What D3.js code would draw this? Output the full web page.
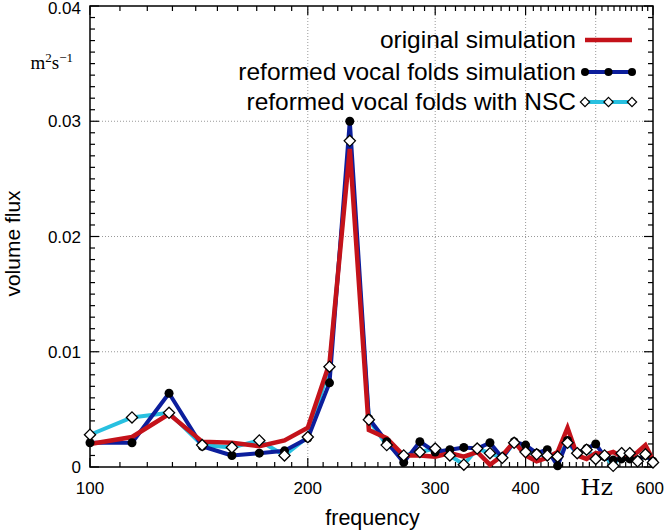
<!DOCTYPE html>
<html><head><meta charset="utf-8">
<script src="https://cdn.jsdelivr.net/npm/d3@7"></script>
<style>body{margin:0;background:#fff}svg{display:block}</style>
</head><body>
<svg id="c" width="665" height="530"></svg>
<script>
const freqs = [100,114.3,128.6,142.9,157.1,171.4,185.7,200,214.3,228.6,242.9,257.1,271.4,285.7,300,314.3,328.6,342.9,357.1,371.4,385.7,400,414.3,428.6,442.9,457.1,471.4,485.7,500,514.3,528.6,542.9,557.1,571.4,585.7,600];
const original = [0.0020,0.0026,0.0046,0.0022,0.0021,0.0018,0.0023,0.0034,0.0090,0.0276,0.0032,0.0025,0.0010,0.0010,0.0009,0.0012,0.0009,0.0013,0.0002,0.0010,0.0022,0.0010,0.0005,0.0008,0.0013,0.0034,0.0010,0.0007,0.0012,0.0011,0.0013,0.0009,0.0008,0.0013,0.0019,0.0006];
const reformed = [0.0021,0.0021,0.0064,0.0018,0.0010,0.0012,0.0014,0.0025,0.0073,0.0300,0.0042,0.0022,0.0004,0.0022,0.0013,0.0015,0.0017,0.0016,0.0021,0.0008,0.0022,0.0019,0.0012,0.0015,0.0001,0.0023,0.0012,0.0016,0.0020,0.0009,0.0006,0.0007,0.0007,0.0006,0.0010,0.0005];
const nsc = [0.0028,0.0043,0.0047,0.0019,0.0017,0.0023,0.0010,0.0026,0.0087,0.0283,0.0041,0.0019,0.0010,0.0013,0.0016,0.0010,0.0002,0.0016,0.0012,0.0008,0.0021,0.0013,0.0011,0.0010,0.0009,0.0021,0.0012,0.0015,0.0007,0.0010,0.0001,0.0012,0.0012,0.0005,0.0011,0.0004];
const xMajor = [100,200,300,400,500,600];
const xLabels = ["100","200","300","400","","600"];
const yMajor = [0,0.01,0.02,0.03,0.04];
const yLabels = ["0","0.01","0.02","0.03","0.04"];
const legendNames = ["original simulation","reformed vocal folds simulation","reformed vocal folds with NSC"];

const L=90,R=653,T=6,B=467;
const svg=d3.select("#c");
const x=d3.scaleLog().domain([100,600]).range([L,R]);
const y=d3.scaleLinear().domain([0,0.04]).range([B,T]);

// grid
const gridX=[200,300,400,500];
const gridY=[0.01,0.02,0.03];
svg.append("g").selectAll("line").data(gridX).join("line")
  .attr("x1",d=>x(d)).attr("x2",d=>x(d)).attr("y1",T).attr("y2",B)
  .attr("stroke","#999").attr("stroke-width",1).attr("stroke-dasharray","1,2");
svg.append("g").selectAll("line").data(gridY).join("line")
  .attr("y1",d=>y(d)).attr("y2",d=>y(d)).attr("x1",L).attr("x2",R)
  .attr("stroke","#999").attr("stroke-width",1).attr("stroke-dasharray","1,2");

// minor ticks
const xMin2=[];
[100,200,300,400,500].forEach(s=>{for(let k=1;k<10;k++) xMin2.push(s+k*10);});
const yMinor=[];
for(let i=1;i<40;i++){ if(i%10!==0) yMinor.push(i/1000); }

const tk=svg.append("g").attr("stroke","#000").attr("stroke-width",1.2);
xMin2.forEach(v=>{
  tk.append("line").attr("x1",x(v)).attr("x2",x(v)).attr("y1",B).attr("y2",B-5);
  tk.append("line").attr("x1",x(v)).attr("x2",x(v)).attr("y1",T).attr("y2",T+5);
});
xMajor.forEach(v=>{
  tk.append("line").attr("x1",x(v)).attr("x2",x(v)).attr("y1",B).attr("y2",B-9);
  tk.append("line").attr("x1",x(v)).attr("x2",x(v)).attr("y1",T).attr("y2",T+9);
});
yMinor.forEach(v=>{
  tk.append("line").attr("y1",y(v)).attr("y2",y(v)).attr("x1",L).attr("x2",L+5);
  tk.append("line").attr("y1",y(v)).attr("y2",y(v)).attr("x1",R).attr("x2",R-5);
});
yMajor.forEach(v=>{
  tk.append("line").attr("y1",y(v)).attr("y2",y(v)).attr("x1",L).attr("x2",L+9);
  tk.append("line").attr("y1",y(v)).attr("y2",y(v)).attr("x1",R).attr("x2",R-9);
});

// frame
svg.append("rect").attr("x",L).attr("y",T).attr("width",R-L).attr("height",B-T)
  .attr("fill","none").attr("stroke","#000").attr("stroke-width",1.5);

// tick labels
const font="'Liberation Sans', Arial, sans-serif";
svg.append("g").selectAll("text").data(xMajor).join("text")
  .attr("x",d=>d===600?664:x(d)).attr("y",494).attr("text-anchor",d=>d===600?"end":"middle")
  .attr("font-family",font).attr("font-size",17).text((d,i)=>xLabels[i]);
svg.append("g").selectAll("text").data(yMajor).join("text")
  .attr("x",81).attr("y",d=>Math.max(y(d)+6,13.5)).attr("text-anchor","end")
  .attr("font-family",font).attr("font-size",17).text((d,i)=>yLabels[i]);

// units
svg.append("text").attr("x",x(500)+1).attr("y",495).attr("text-anchor","middle")
  .attr("font-family","'DejaVu Serif','Liberation Serif',serif").attr("font-size",23).text("Hz");
const u=svg.append("text").attr("x",73).attr("y",y(0.035)+5).attr("text-anchor","end")
  .attr("font-family","'Liberation Serif','DejaVu Serif',serif").attr("font-size",19);
u.append("tspan").text("m");
u.append("tspan").attr("dy",-7).attr("font-size",13).text("2");
u.append("tspan").attr("dy",7).text("s");
u.append("tspan").attr("dy",-7).attr("font-size",13).text("−1");

// axis titles
svg.append("text").attr("x",(L+R)/2+1).attr("y",525).attr("text-anchor","middle")
  .attr("font-family",font).attr("font-size",21.5).text("frequency");
svg.append("text").attr("transform",`translate(20,${(T+B)/2+7}) rotate(-90)`).attr("text-anchor","middle")
  .attr("font-family",font).attr("font-size",21).text("volume flux");

// series
const colors={red:"#c4121a",blue:"#0c1e9c",cyan:"#28c0e0"};
const line=d3.line().x((d,i)=>x(freqs[i])).y(d=>y(d));
const plot=svg.append("g");
plot.append("path").datum(nsc).attr("d",line).attr("fill","none").attr("stroke",colors.cyan).attr("stroke-width",4).attr("stroke-linejoin","round");
plot.append("path").datum(reformed).attr("d",line).attr("fill","none").attr("stroke",colors.blue).attr("stroke-width",4).attr("stroke-linejoin","round");
plot.append("path").datum(original).attr("d",line).attr("fill","none").attr("stroke",colors.red).attr("stroke-width",4.5).attr("stroke-linejoin","miter");
plot.append("g").selectAll("circle").data(reformed).join("circle")
  .attr("cx",(d,i)=>x(freqs[i])).attr("cy",d=>y(d)).attr("r",4.5).attr("fill","#000");
const dia=d3.symbol().type(d3.symbolDiamond2).size(80);
plot.append("g").selectAll("path").data(nsc).join("path")
  .attr("transform",(d,i)=>`translate(${x(freqs[i])},${y(d)})`).attr("d",dia)
  .attr("fill","#fff").attr("stroke","#000").attr("stroke-width",1.3);

// legend
const lg=svg.append("g");
const ly=[40,72,102];
legendNames.forEach((n,i)=>{
  lg.append("text").attr("x",576).attr("y",ly[i]+8).attr("text-anchor","end")
    .attr("font-family",font).attr("font-size",24.5).text(n);
});
lg.append("line").attr("x1",585).attr("x2",632).attr("y1",ly[0]).attr("y2",ly[0]).attr("stroke",colors.red).attr("stroke-width",4.5);
lg.append("line").attr("x1",585).attr("x2",632).attr("y1",ly[1]).attr("y2",ly[1]).attr("stroke",colors.blue).attr("stroke-width",4);
lg.append("line").attr("x1",585).attr("x2",632).attr("y1",ly[2]).attr("y2",ly[2]).attr("stroke",colors.cyan).attr("stroke-width",4);
[585,608.5,632].forEach(px=>{
  lg.append("circle").attr("cx",px).attr("cy",ly[1]).attr("r",4).attr("fill","#000");
  lg.append("path").attr("transform",`translate(${px},${ly[2]})`).attr("d",d3.symbol().type(d3.symbolDiamond2).size(55))
    .attr("fill","#fff").attr("stroke","#000").attr("stroke-width",1.2);
});
</script>
</body></html>
